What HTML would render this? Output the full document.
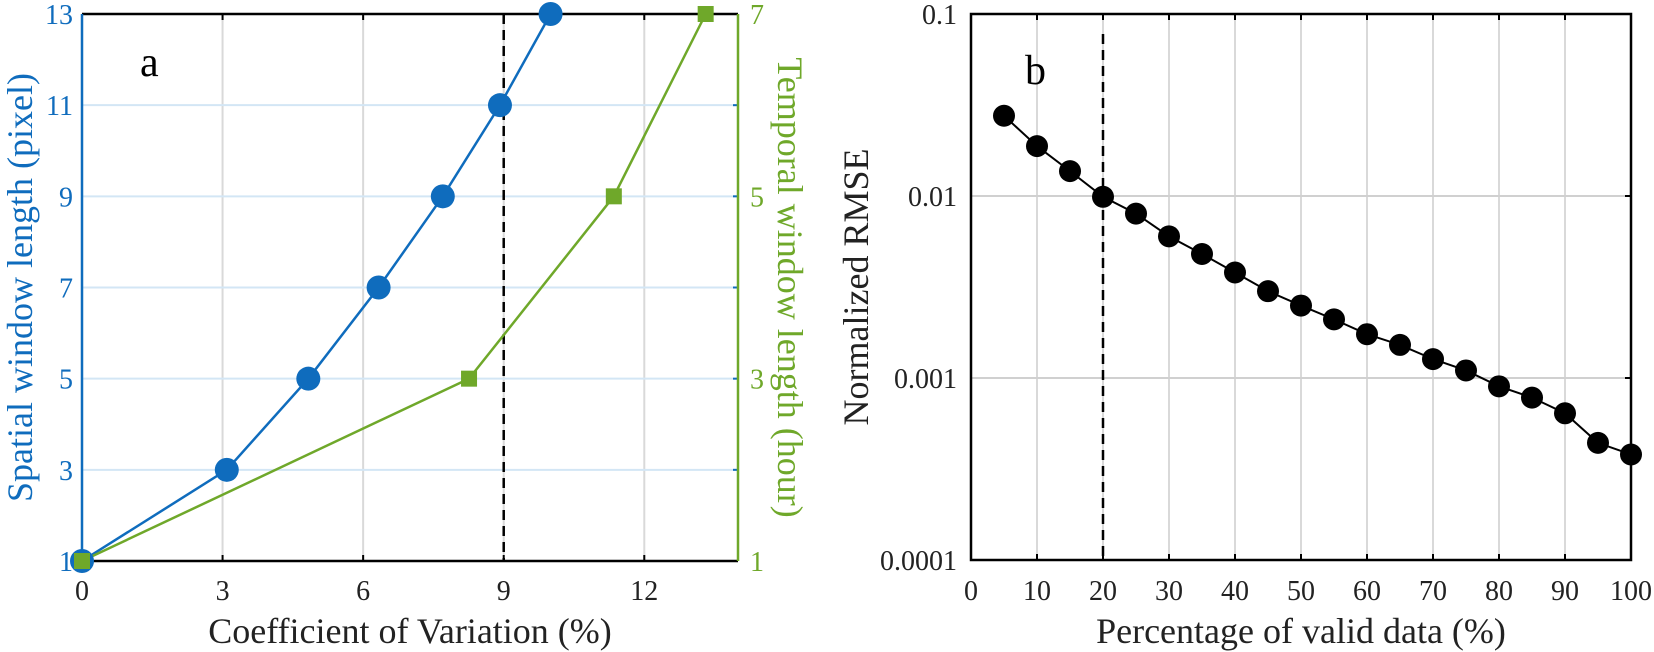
<!DOCTYPE html>
<html><head><meta charset="utf-8"><style>
html,body{margin:0;padding:0;background:#fff;}
svg{display:block;font-family:"Liberation Serif",serif;}
</style></head><body>
<svg id="chart" width="1654" height="652" xmlns="http://www.w3.org/2000/svg">
<g id="pa"></g>
<g id="pb"></g>
</svg>
<script>
// Panel a data
const spatialX = [0, 3.09, 4.83, 6.33, 7.70, 8.92, 10.0];
const spatialY = [1, 3, 5, 7, 9, 11, 13];
const temporalX = [0, 8.26, 11.35, 13.31];
const temporalY = [1, 3, 5, 7];
const aXTicks = [0, 3, 6, 9, 12];
const aLeftTicks = [1, 3, 5, 7, 9, 11, 13];
const aRightTicks = [1, 3, 5, 7];
const aThreshold = 9;
// Panel b data
const validPct = [5,10,15,20,25,30,35,40,45,50,55,60,65,70,75,80,85,90,95,100];
const nrmse = [0.0276,0.0188,0.0137,0.0099,0.0080,0.0060,0.0048,0.0038,0.0030,0.0025,0.0021,0.00174,0.00152,0.00127,0.0011,0.0009,0.00078,0.00064,0.00044,0.00038];
const bXTicks = [0,10,20,30,40,50,60,70,80,90,100];
const bYTicks = [0.0001,0.001,0.01,0.1];
const bYTickLabels = ["0.0001","0.001","0.01","0.1"];
const bThreshold = 20;

const NS="http://www.w3.org/2000/svg";
function mk(parent,tag,attrs,text){const e=document.createElementNS(NS,tag);for(const k in attrs)e.setAttribute(k,attrs[k]);if(text!==undefined)e.textContent=text;parent.appendChild(e);return e;}

const BLUE="#0f6cbd", GREEN="#6fa82a";
const TF=28, TT=36;
// Panel a
const pa=document.getElementById('pa');
const aL=82,aR=738,aT=14,aB=561;
const ax=v=>aL+(v-0)/(14-0)*(aR-aL);
const ay=v=>aB-(v-1)/(13-1)*(aB-aT);
const ay2=v=>aB-(v-1)/(7-1)*(aB-aT);
aXTicks.forEach(t=>{
  let g=mk(pa,'line',{x1:ax(t),x2:ax(t),y1:aT,y2:aB,stroke:'#d9d9d9','stroke-width':2});
  
  
  let l=mk(pa,'text',{x:ax(t),y:600,'text-anchor':'middle','font-size':TF,fill:'#222'},t);
  
  
  mk(pa,'line',{x1:ax(t),x2:ax(t),y1:aB,y2:aB-6,stroke:'#000','stroke-width':2});
  mk(pa,'line',{x1:ax(t),x2:ax(t),y1:aT,y2:aT+6,stroke:'#000','stroke-width':2});
});
aLeftTicks.forEach(t=>{
  if(t>1&&t<13){let g=mk(pa,'line',{x1:aL,x2:aR,y1:ay(t),y2:ay(t),stroke:'#d3e6f5','stroke-width':2});
  
  }
  let l=mk(pa,'text',{x:aL-9,y:ay(t)+10,'text-anchor':'end','font-size':TF,fill:BLUE},t);
  
  
  mk(pa,'line',{x1:aR,x2:aR-5,y1:ay(t),y2:ay(t),stroke:BLUE,'stroke-width':2});
});
aRightTicks.forEach(t=>{
  let l=mk(pa,'text',{x:aR+12,y:ay2(t)+10,'text-anchor':'start','font-size':TF,fill:GREEN},t);
  
  
});
let d=mk(pa,'line',{x1:ax(aThreshold),x2:ax(aThreshold),y1:aT,y2:aB,stroke:'#000','stroke-width':2.5,'stroke-dasharray':'10,6'});


mk(pa,'line',{x1:aL,x2:aR,y1:aT,y2:aT,stroke:'#000','stroke-width':2.5});
mk(pa,'line',{x1:aL,x2:aR,y1:aB,y2:aB,stroke:'#000','stroke-width':2.5});
mk(pa,'line',{x1:aL,x2:aL,y1:aT,y2:aB,stroke:BLUE,'stroke-width':2.5});
mk(pa,'line',{x1:aR,x2:aR,y1:aT,y2:aB,stroke:GREEN,'stroke-width':2.5});
let pl=mk(pa,'polyline',{points:spatialX.map((x,i)=>ax(x)+','+ay(spatialY[i])).join(' '),fill:'none',stroke:BLUE,'stroke-width':2.5});


let pl2=mk(pa,'polyline',{points:temporalX.map((x,i)=>ax(x)+','+ay2(temporalY[i])).join(' '),fill:'none',stroke:GREEN,'stroke-width':2.5});


spatialX.forEach((x,i)=>{
  let c=mk(pa,'circle',{cx:ax(x),cy:ay(spatialY[i]),r:12,fill:BLUE});
  
  
});
temporalX.forEach((x,i)=>{
  let s=mk(pa,'rect',{x:ax(x)-8,y:ay2(temporalY[i])-8,width:16,height:16,fill:GREEN});
  
  
});
mk(pa,'text',{x:140,y:76,'font-size':42,fill:'#000'},'a');
mk(pa,'text',{x:(aL+aR)/2,y:643,'text-anchor':'middle','font-size':TT,fill:'#222'},'Coefficient of Variation (%)');
mk(pa,'text',{x:0,y:0,transform:'translate(32,'+((aT+aB)/2)+') rotate(-90)','text-anchor':'middle','font-size':TT,fill:BLUE},'Spatial window length (pixel)');
mk(pa,'text',{x:0,y:0,transform:'translate(778,'+((aT+aB)/2)+') rotate(90)','text-anchor':'middle','font-size':TT,fill:GREEN},'Temporal window length (hour)');

// Panel b
const pb=document.getElementById('pb');
const bL=971,bR=1631,bT=14,bB=560;
const bx=v=>bL+v/100*(bR-bL);
const by=v=>bB-(Math.log10(v)+4)/3*(bB-bT);
bXTicks.forEach(t=>{
  if(t>0&&t<100){let g=mk(pb,'line',{x1:bx(t),x2:bx(t),y1:bT,y2:bB,stroke:'#d9d9d9','stroke-width':2});
  
  }
  mk(pb,'line',{x1:bx(t),x2:bx(t),y1:bB,y2:bB-6,stroke:'#000','stroke-width':2});
  mk(pb,'line',{x1:bx(t),x2:bx(t),y1:bT,y2:bT+6,stroke:'#000','stroke-width':2});
  let l=mk(pb,'text',{x:bx(t),y:600,'text-anchor':'middle','font-size':TF,fill:'#222'},t);
  
  
});
bYTicks.forEach((t,i)=>{
  if(i>0&&i<3){let g=mk(pb,'line',{x1:bL,x2:bR,y1:by(t),y2:by(t),stroke:'#d0d0d0','stroke-width':2});
  
  }
  mk(pb,'line',{x1:bR,x2:bR-6,y1:by(t),y2:by(t),stroke:'#000','stroke-width':2});
  let l=mk(pb,'text',{x:bL-14,y:by(t)+10,'text-anchor':'end','font-size':TF,fill:'#222'},bYTickLabels[i]);
  
  
});
let d2=mk(pb,'line',{x1:bx(bThreshold),x2:bx(bThreshold),y1:bT+20,y2:bB,stroke:'#000','stroke-width':2.5,'stroke-dasharray':'10,6'});


mk(pb,'rect',{x:bL,y:bT,width:bR-bL,height:bB-bT,fill:'none',stroke:'#000','stroke-width':2.5});
let pl3=mk(pb,'polyline',{points:validPct.map((x,i)=>bx(x)+','+by(nrmse[i])).join(' '),fill:'none',stroke:'#000','stroke-width':2});


validPct.forEach((x,i)=>{
  let c=mk(pb,'circle',{cx:bx(x),cy:by(nrmse[i]),r:11,fill:'#000'});
  
  
});
mk(pb,'text',{x:1025,y:84,'font-size':42,fill:'#000'},'b');
mk(pb,'text',{x:(bL+bR)/2,y:643,'text-anchor':'middle','font-size':TT,fill:'#222'},'Percentage of valid data (%)');
mk(pb,'text',{x:0,y:0,transform:'translate(868,'+((bT+bB)/2)+') rotate(-90)','text-anchor':'middle','font-size':TT,fill:'#222'},'Normalized RMSE');
</script>
</body></html>
